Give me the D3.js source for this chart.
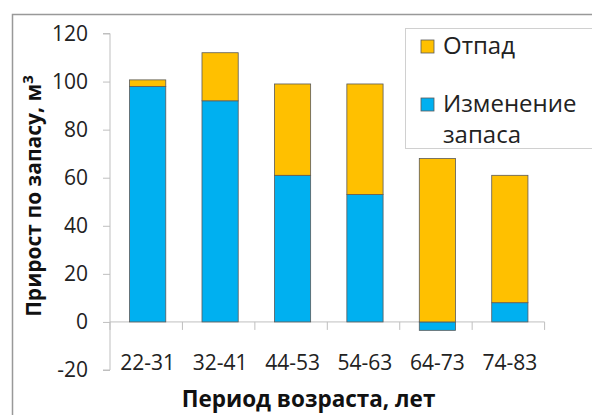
<!DOCTYPE html>
<html><head><meta charset="utf-8">
<script src="https://cdn.jsdelivr.net/npm/d3@7"></script>
<style>
html,body{margin:0;padding:0;background:#fff;}
svg{display:block;}
text{font-family:"Open Sans",sans-serif;}
</style></head>
<body>
<script>
const categories = ["22-31","32-41","44-53","54-63","64-73","74-83"];
const changeValues = [98, 92, 61, 53, -3.5, 8];   // Изменение запаса
const lossValues = [2.7, 20, 38, 46, 68, 53];      // Отпад
const yTicks = [-20, 0, 20, 40, 60, 80, 100, 120];
const seriesNames = ["Изменение запаса", "Отпад"];
const colors = {"Изменение запаса":"#00B0F0", "Отпад":"#FFC000"};

const W = 592, H = 415;
const svg = d3.select("body").append("svg").attr("width", W).attr("height", H);

// outer frame (left and top edges only visible)
svg.append("path").attr("d", `M12.5,${H} L12.5,14.5 L${W},14.5`)
  .attr("fill","none").attr("stroke","#999").attr("stroke-width",1.5);

const y = d3.scaleLinear().domain([-20,120]).range([370, 33.5]);
const x = d3.scaleBand().domain(categories).range([110, 547.5]).paddingInner(0.5).paddingOuter(0.27);

const rows = categories.map((c,i)=>({cat:c, "Изменение запаса":changeValues[i], "Отпад":lossValues[i]}));
const stack = d3.stack().keys(seriesNames).offset(d3.stackOffsetDiverging);
const layers = stack(rows);

// y axis
const yAxis = d3.axisLeft(y).tickValues(yTicks).tickSize(7).tickPadding(15).tickFormat(d=>String(d));
const gy = svg.append("g").attr("transform","translate(110,0)").call(yAxis);
gy.select(".domain").attr("stroke","#bfbfbf").attr("d", `M-7,${y(120)}H0V${y(-20)}H-7`);
gy.selectAll(".tick line").attr("stroke","#bfbfbf");
gy.selectAll(".tick text").attr("font-size",21).attr("fill","#222").attr("font-family","Open Sans");

// x axis at zero
const step = x.step();
const x0 = 110;
const gx = svg.append("g").attr("transform",`translate(0,${y(0)})`);
gx.append("line").attr("x1",x0).attr("x2",x0+step*categories.length).attr("y1",0).attr("y2",0).attr("stroke","#bfbfbf");
gx.selectAll("line.tk").data(d3.range(categories.length+1)).join("line").attr("class","tk")
  .attr("x1",i=>x0+step*i).attr("x2",i=>x0+step*i).attr("y1",0).attr("y2",8).attr("stroke","#bfbfbf");

// bars
svg.append("g").selectAll("g").data(layers).join("g")
  .attr("fill", d=>colors[d.key])
  .selectAll("rect").data(d=>d).join("rect")
  .attr("x", d=>x(d.data.cat))
  .attr("width", x.bandwidth())
  .attr("y", d=>y(Math.max(d[0],d[1])))
  .attr("height", d=>Math.abs(y(d[0])-y(d[1])))
  .attr("stroke","#5a5a5a").attr("stroke-width",0.8);

// category labels
svg.append("g").selectAll("text").data(categories).join("text")
  .attr("x", d=>x(d)+x.bandwidth()/2)
  .attr("y", 369.5)
  .attr("text-anchor","middle").attr("font-size",21).attr("fill","#222")
  .text(d=>d);

// axis titles
svg.append("text").attr("x",308.5).attr("y",407).attr("text-anchor","middle")
  .attr("font-size",22.5).attr("font-weight","bold").attr("fill","#111")
  .text("Период возраста, лет");

const yt = svg.append("text").attr("transform","translate(41,196) rotate(-90)")
  .attr("text-anchor","middle").attr("font-size",21).attr("font-weight","bold").attr("fill","#111");
yt.append("tspan").text("Прирост по запасу, м");
yt.append("tspan").attr("dy",-8).attr("font-size",15).text("3");

// legend
const lg = svg.append("g");
lg.append("rect").attr("x",405.5).attr("y",28.5).attr("width",W).attr("height",120)
  .attr("fill","#fff").attr("stroke","#d0d0d0");
const legendItems = [{key:"Отпад", lines:["Отпад"], y:54},{key:"Изменение запаса", lines:["Изменение","запаса"], y:112}];
legendItems.forEach(it=>{
  lg.append("rect").attr("x",421).attr("y",it.y-14).attr("width",13).attr("height",13)
    .attr("fill",colors[it.key]).attr("stroke","#5a5a5a").attr("stroke-width",0.8);
  it.lines.forEach((ln,j)=>{
    lg.append("text").attr("x",443).attr("y",it.y+j*31).attr("font-size",24).attr("fill","#222").text(ln);
  });
});
</script>
</body></html>
